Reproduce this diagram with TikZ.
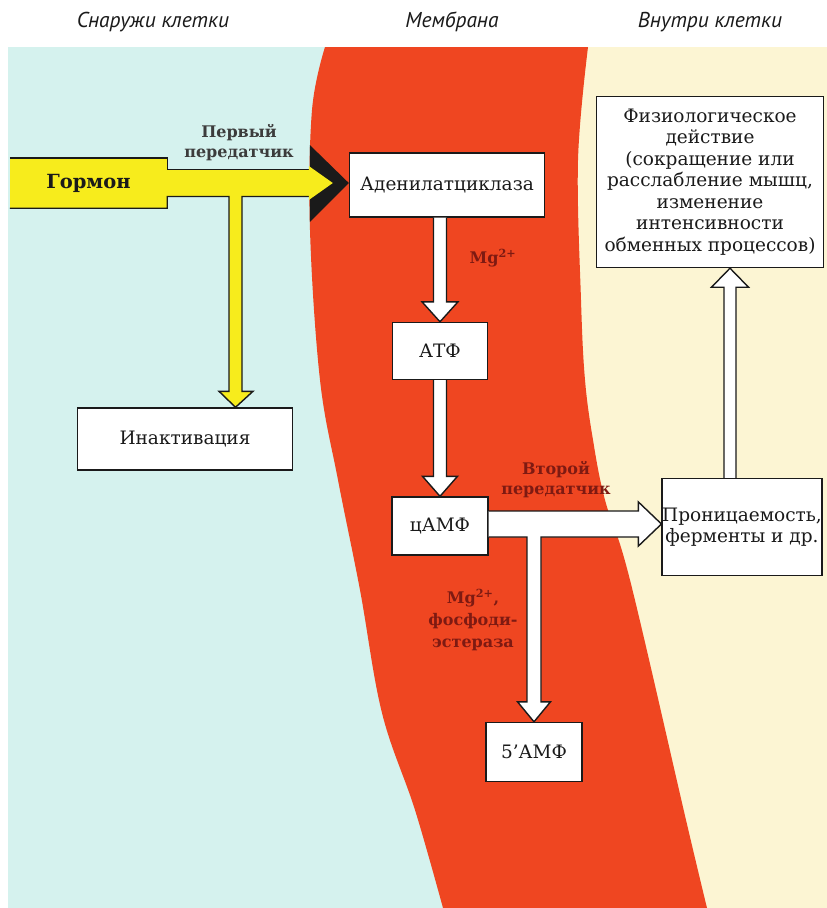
\documentclass[tikz,border=0pt]{standalone}
\usepackage{fontspec}
\setmainfont{DejaVu Serif}
\newfontfamily\titlefont{PT Sans}
\usepackage{tikz}
\usetikzlibrary{calc}
\definecolor{Outside}{HTML}{D5F2EE}
\definecolor{Inside}{HTML}{FCF5D3}
\definecolor{Membrane}{HTML}{EF4621}
\definecolor{Hormone}{HTML}{F7EC1C}
\definecolor{Label}{HTML}{7E1A12}
\definecolor{Ink}{HTML}{1A1A1A}
\begin{document}
\begin{tikzpicture}[x=1pt,y=-1pt,
  box/.style={draw=Ink,fill=white,line width=1.4pt,inner sep=0pt,align=center,text=Ink,font=\fontsize{18.5}{21.5}\selectfont},
  wide/.style={fill=white,draw=Ink,line width=1.4pt,line join=miter},
  lbl/.style={inner sep=0pt,align=center,text=Label,font=\bfseries\fontsize{16}{20}\selectfont},
  ttl/.style={text=Ink,font=\titlefont\itshape\fontsize{21.5}{24}\selectfont}]
\useasboundingbox (0,0) rectangle (827,908);
\fill[white] (0,0) rectangle (827,908);
\fill[Outside] (8,47) rectangle (500,908);
\fill[Inside] (500,47) rectangle (827,908);
\fill[Membrane] plot[smooth,tension=0.6] coordinates {(325,47) (312,110) (310,230) (320,380) (338,480) (360,590) (382,713) (415,810) (443,908)}
  -- plot[smooth,tension=0.6] coordinates {(707,908) (686,820) (630,580) (605,500) (593,440) (585,380) (581,300) (578,160) (588,47)} -- cycle;
\node[ttl] (outside) at (153,22) {Снаружи клетки};
\node[ttl] (membrane) at (452,22) {Мембрана};
\node[ttl] (inside) at (710,22) {Внутри клетки};
\node[box,minimum width=195pt,minimum height=64pt] (adc) at (447,185) {Аденилатциклаза};
\node[box,minimum width=95pt,minimum height=57pt] (atf) at (440,351) {АТФ};
\node[box,minimum width=96pt,minimum height=58pt] (camp) at (440,526) {цАМФ};
\node[box,minimum width=96pt,minimum height=59pt] (amp) at (534,752) {5’АМФ};
\node[box,minimum width=215pt,minimum height=62pt] (inact) at (185,439) {Инактивация};
\node[box,minimum width=159pt,minimum height=97pt] (perm) at (742,527) {Проницаемость,\\ферменты и др.};
\node[box,minimum width=227pt,minimum height=171pt] (phys) at (710,182) {Физиологическое\\действие\\(сокращение или\\расслабление мышц,\\изменение\\интенсивности\\обменных процессов)};
\node[fill=Hormone,minimum width=157pt,minimum height=50pt,inner sep=0pt,text=Ink,font=\bfseries\fontsize{19.5}{22}\selectfont] (horm) at (88.5,183) {Гормон};
\coordinate (hb) at ($(adc.west |- horm.east)+(-39,0)$);
\coordinate (vs) at ($(inact.north)+(50.5,0)$);
\fill[Hormone] (horm.north east) -- ($(horm.east)+(0,-13.5)$) -- ($(hb)+(1,-13.5)$) -- ($(hb)+(1,13.5)$) -- ($(vs |- horm.east)+(6.5,13.5)$) -- ($(vs)+(6.5,-16)$) -- ($(vs)+(17.5,-16)$) -- (vs) -- ($(vs)+(-16.5,-16)$) -- ($(vs)+(-6.5,-16)$) -- ($(vs |- horm.east)+(-6.5,13.5)$) -- ($(horm.east)+(0,13.5)$) -- (horm.south east) -- cycle;
\draw[Ink,line width=1.4pt,line join=miter] (horm.north west) -- (horm.north east) -- ($(horm.east)+(0,-13.5)$) -- ($(hb)+(0,-13.5)$);
\draw[Ink,line width=1.4pt,line join=miter] ($(hb)+(0,13.5)$) -- ($(vs |- horm.east)+(6.5,13.5)$) -- ($(vs)+(6.5,-16)$) -- ($(vs)+(17.5,-16)$) -- (vs) -- ($(vs)+(-16.5,-16)$) -- ($(vs)+(-6.5,-16)$) -- ($(vs |- horm.east)+(-6.5,13.5)$) -- ($(horm.east)+(0,13.5)$) -- (horm.south east) -- (horm.south west);
\fill[Ink] ($(hb)+(0,-38)$) -- (adc.west |- hb) -- ($(hb)+(0,39)$) -- cycle;
\fill[Hormone] ($(hb)+(-1,-17)$) -- ($(hb)+(23,0)$) -- ($(hb)+(-1,17)$) -- cycle;
\filldraw[wide] ($(adc.south -| atf.north)+(-6.5,0)$) -- ($(atf.north)+(-6.5,-20)$) -- ($(atf.north)+(-18,-20)$) -- (atf.north) -- ($(atf.north)+(18,-20)$) -- ($(atf.north)+(6.5,-20)$) -- ($(adc.south -| atf.north)+(6.5,0)$);
\filldraw[wide] ($(atf.south -| camp.north)+(-6.5,0)$) -- ($(camp.north)+(-6.5,-20)$) -- ($(camp.north)+(-17.5,-20)$) -- (camp.north) -- ($(camp.north)+(17.5,-20)$) -- ($(camp.north)+(6.5,-20)$) -- ($(atf.south -| camp.north)+(6.5,0)$);
\coordinate (ht) at ($(perm.west |- camp.east)+(0,-2)$);
\filldraw[wide] ($(camp.east)+(0,-15)$) -- ($(ht)+(-23,-13)$) -- ($(ht)+(-23,-22)$) -- (ht) -- ($(ht)+(-23,22)$) -- ($(ht)+(-23,13)$) -- ($(amp.north |- ht)+(7,13)$) -- ($(amp.north)+(7,-20)$) -- ($(amp.north)+(16.5,-20)$) -- (amp.north) -- ($(amp.north)+(-16.5,-20)$) -- ($(amp.north)+(-7,-20)$) -- ($(amp.north |- ht)+(-7,13)$) -- ($(camp.east)+(0,11)$);
\coordinate (ps) at ($(perm.north)+(-12,0)$);
\filldraw[wide] ($(ps)+(-6,0)$) -- ($(ps |- phys.south)+(-6,19)$) -- ($(ps |- phys.south)+(-18.5,19)$) -- (ps |- phys.south) -- ($(ps |- phys.south)+(18.5,19)$) -- ($(ps |- phys.south)+(6,19)$) -- ($(ps)+(6,0)$);
\node[lbl,text=Ink!85] (first) at (239,143) {Первый\\передатчик};
\node[lbl] (mgone) at (493,258) {Mg\textsuperscript{2+}};
\node[lbl] (second) at (556,480) {Второй\\передатчик};
\node[lbl,font=\bfseries\fontsize{16}{22}\selectfont] (mgtwo) at (473,620) {Mg\textsuperscript{2+},\\фосфоди-\\эстераза};
\end{tikzpicture}
\end{document}
